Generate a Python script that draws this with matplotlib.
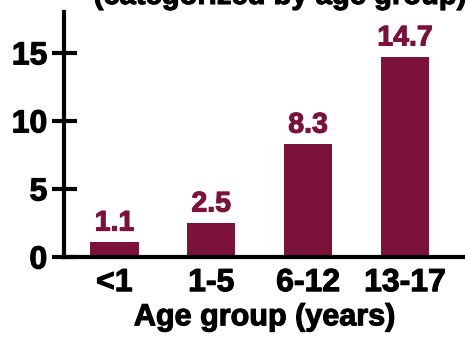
import matplotlib
matplotlib.use("Agg")
import matplotlib.pyplot as plt
import matplotlib.patheffects as pe

# rate per age group
groups = ["<1", "1-5", "6-12", "13-17"]
values = [1.1, 2.5, 8.3, 14.7]
yticks = [0, 5, 10, 15]

BAR = "#7C1239"
plt.rcParams["font.family"] = ["Liberation Sans", "DejaVu Sans"]
plt.rcParams["font.weight"] = "bold"


def heavy(color):
    # slightly thicker strokes than plain bold
    return [pe.withStroke(linewidth=0.8, foreground=color)]


fig = plt.figure(figsize=(4.65, 3.38), dpi=100)
ax = fig.add_axes([64 / 465, 81 / 338, 1 - 64 / 465, 245 / 338])

x = range(len(groups))
ax.bar(x, values, width=0.5, color=BAR, zorder=2)
for xi, v in zip(x, values):
    ax.text(xi, v + 0.4, f"{v:.1f}", ha="center", va="bottom",
            color=BAR, fontsize=20.5, fontweight="bold", path_effects=heavy(BAR))

ax.set_xlim(-0.52, 3.62)
ax.set_ylim(0, 18)
ax.set_xticks(list(x))
ax.set_xticklabels(groups)
ax.set_yticks(yticks)
ax.tick_params(axis="x", length=0, pad=8, labelsize=23)
ax.tick_params(axis="y", direction="inout", length=18, width=3, pad=3, labelsize=23)
for lbl in ax.get_xticklabels() + ax.get_yticklabels():
    lbl.set_path_effects(heavy("black"))
for s in ("top", "right"):
    ax.spines[s].set_visible(False)
for s in ("left", "bottom"):
    ax.spines[s].set_linewidth(3)
ax.set_xlabel("Age group (years)", fontsize=22, fontweight="bold", labelpad=3,
              path_effects=heavy("black"))

fig.text(0.602, 1 - 4 / 338, "(categorized by age group)", ha="center",
         va="baseline", fontsize=21, fontweight="bold", path_effects=heavy("black"))

fig.savefig("out.png", dpi=100)
